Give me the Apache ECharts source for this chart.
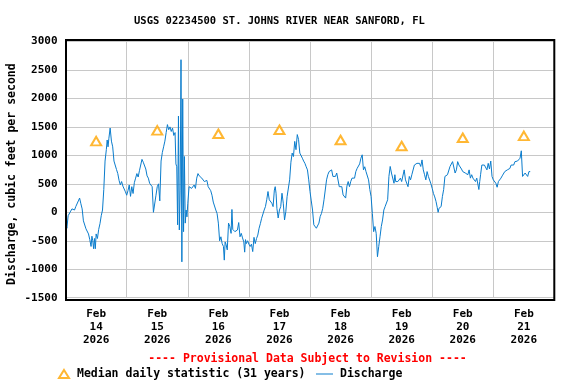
<!DOCTYPE html>
<html>
<head>
<meta charset="utf-8">
<script src="https://cdn.jsdelivr.net/npm/echarts@6/dist/echarts.min.js"></script>
<style>
html,body{margin:0;padding:0;background:#fff;}
#chart{width:576px;height:384px;}
</style>
</head>
<body>
<div id="chart"></div>
<script>
// Chart text
const chartTitle = 'USGS 02234500 ST. JOHNS RIVER NEAR SANFORD, FL';
const yAxisTitle = 'Discharge, cubic feet per second';
const provisionalNote = '---- Provisional Data Subject to Revision ----';
const medianName = 'Median daily statistic (31 years)';
const dischargeName = 'Discharge';

// X tick labels (placed at noon of each day)
const tickMonths = ['Feb','Feb','Feb','Feb','Feb','Feb','Feb','Feb'];
const tickDays = ['14','15','16','17','18','19','20','21'];
const tickYears = ['2026','2026','2026','2026','2026','2026','2026','2026'];

// Y ticks
const yMin = -1500, yMax = 3000, yStep = 500;

// Median daily statistic (cfs), one per day, plotted at noon
const medianValues = [1250, 1440, 1380, 1450, 1270, 1165, 1310, 1342];

// Discharge (cfs), one entry per hour starting Feb 14 00:00;
// an entry with several readings spreads them evenly within that hour
const hourlyDischarge = [
  [-180,-280], -60, [20,60], [60,40], [100,90], [200,250], [150,60], -150, -290, [-380,-480],
  [-600,-420,-500], [-640,-460,-640], [-380,-460], [-300,-200], [-60,40], [400,900], [1100,1270,1150], [1300,1480], [1250,1150], 900,
  [750,680], [560,480], [540,460], [440,360], [300,380], [480,280], [450,330], [520,600], [680,620], [730,700],
  [930,880], [850,760], [640,600], 510, [450,0], [-20,300], [450,500], [200,900], [1050,1150], [1250,1400],
  [1540,1450], [1500,1420], [1480,1350], [1400,850,800], [-220,1690,-310], [390,2680,-870], [1990,-340,980], [-190,40,-80], [160,450], [480,420],
  [450,480], [420,600], [680,640], [660,600], [620,540], [510,560], [450,480], [380,300], [180,200], [40,-20],
  [-190,-500], [-430,-550], [-600,-840,-520], [-560,-660], [-190,-250], [-370,50,-300], [-310,-340], [-370,-310], [-180,-430], [-370,-450],
  [-520,-700,-480], [-550,-500], [-560,-600], [-560,-690], [-440,-550], [-460,-400], [-280,-200], [-105,-70], [40,100], [220,365],
  [220,230], [160,100], [390,450,335], [70,-100], [40,100], [335,160], [-135,10], [275,300], [570,880], [1040,980],
  [1245,1100], [1365,1280], [1040,1010], [950,900], [860,800], [745,570], [365,200], [40,-220], [-220,-280], [-280,-190],
  [-75,-20], [70,220], [220,570], [660,715], [715,745], [630,600], [630,690], [690,450], [420,450], [305,270],
  [250,460], [540,450], [540,600], [630,600], [715,770], [805,850], [950,1010], [745,800], [715,690], [570,400],
  [275,-20], [-340,-250], [-370,-780], [-600,-430], [-250,-135], [40,100], [130,220], [630,805], [690,660], [510,660,540],
  [570,540], [570,600], [540,570], [745,570], [570,450], [630,570], [660,660], [830,800], [860,830], [860,805],
  [920,745], [660,570], [715,630], [630,500], [420,330], [270,190], [80,0,70], [40,100], [275,400], [630,640],
  [660,660], [805,840], [890,880], [690,745], [890,830], [860,760], [715,745], [690,715], [660,745], [600,660],
  [600,570], [540,600], [480,400,540], [660,830], [860,830], [830,745], [860,760], [900,630], [570,540], [510,440],
  [540,570], [600,640], [660,715], [745,745], [770,770], [830,800], [830,890], [920,900], [920,950], [1080,630],
  [600,690], [700,630], [715,715]
];

// ---- build series data ----
const dischargeData = [];
hourlyDischarge.forEach((v, i) => {
  const arr = Array.isArray(v) ? v : [v];
  arr.forEach((val, j) => dischargeData.push([i + j / arr.length, val]));
});
const medianData = medianValues.map((v, i) => [i * 24 + 12, v]);
const tickLabels = tickMonths.map((m, i) => m + '\n' + tickDays[i] + '\n' + tickYears[i]);

const FONT = '"DejaVu Sans Mono", "Liberation Mono", monospace';
const LINE_BLUE = '#0a7ccc';
const chart = echarts.init(document.getElementById('chart'), null, {renderer: 'canvas'});

chart.setOption({
  animation: false,
  backgroundColor: '#ffffff',
  title: {
    text: chartTitle,
    left: 129, top: 11,
    textStyle: {fontFamily: FONT, fontWeight: 'bold', fontSize: 10.5, color: '#000'}
  },
  grid: {left: 65.6, right: 21.6, top: 41.5, bottom: 86.3, outerBoundsMode: 'none', containLabel: false},
  xAxis: [{
    type: 'value', min: 0, max: 192, interval: 12,
    axisLine: {show: false}, axisTick: {show: false}, splitLine: {show: false},
    axisLabel: {
      margin: 10, lineHeight: 13, color: '#000',
      fontFamily: FONT, fontWeight: 'bold', fontSize: 11,
      showMinLabel: true, showMaxLabel: true,
      formatter: v => (v % 24 === 12 ? tickLabels[(v - 12) / 24] : '')
    }
  }, {
    type: 'value', min: 0, max: 192, interval: 24,
    axisLine: {show: false}, axisTick: {show: false}, axisLabel: {show: false},
    splitLine: {show: true, lineStyle: {color: '#c8c8c8', width: 1}}
  }],
  yAxis: {
    type: 'value', min: yMin, max: yMax, interval: yStep,
    name: yAxisTitle, nameLocation: 'middle', nameGap: 48, nameMoveOverlap: false,
    nameTextStyle: {fontFamily: FONT, fontWeight: 'bold', fontSize: 11.5, color: '#000', padding: [0, 9, 0, 0]},
    axisLine: {show: false}, axisTick: {show: false},
    axisLabel: {margin: 8, color: '#000', fontFamily: FONT, fontWeight: 'bold', fontSize: 11,
      formatter: v => String(v)},
    splitLine: {show: true, lineStyle: {color: '#c8c8c8', width: 1}}
  },
  legend: [{
    data: [{name: medianName, icon: 'emptyTriangle'}], left: 53, top: 363, itemWidth: 10, itemHeight: 8,
    itemStyle: {color: '#ffa500', borderColor: '#ffa500', borderWidth: 1},
    textStyle: {fontFamily: FONT, fontWeight: 'bold', fontSize: 11.5, color: '#000', padding: [0, 0, 0, 3]}
  }, {
    data: [{name: dischargeName, icon: 'rect'}], left: 311, top: 363, itemWidth: 17, itemHeight: 1,
    itemStyle: {color: LINE_BLUE, borderWidth: 0},
    textStyle: {fontFamily: FONT, fontWeight: 'bold', fontSize: 11.5, color: '#000', padding: [0, 0, 0, 2]}
  }],
  graphic: [{
    type: 'rect', silent: true, z: 100,
    shape: {x: 66, y: 40, width: 488.3, height: 260},
    style: {fill: 'none', stroke: '#000', lineWidth: 2}
  }, {
    type: 'text', silent: true,
    style: {
      text: provisionalNote, x: 307.5, y: 359, align: 'center', verticalAlign: 'middle',
      fontFamily: FONT, fontWeight: 'bold', fontSize: 11.5, fill: '#ff0000'
    }
  }],
  series: [{
    name: dischargeName, type: 'line', xAxisIndex: 0, data: dischargeData,
    showSymbol: false, symbol: 'none',
    lineStyle: {color: LINE_BLUE, width: 1}, itemStyle: {color: LINE_BLUE}, z: 3
  }, {
    name: medianName, type: 'scatter', xAxisIndex: 0, data: medianData,
    symbol: 'emptyTriangle', symbolSize: [10, 8.5],
    itemStyle: {color: '#ffa500', borderColor: '#ffa500', borderWidth: 1}, z: 4
  }]
});
</script>
</body>
</html>
